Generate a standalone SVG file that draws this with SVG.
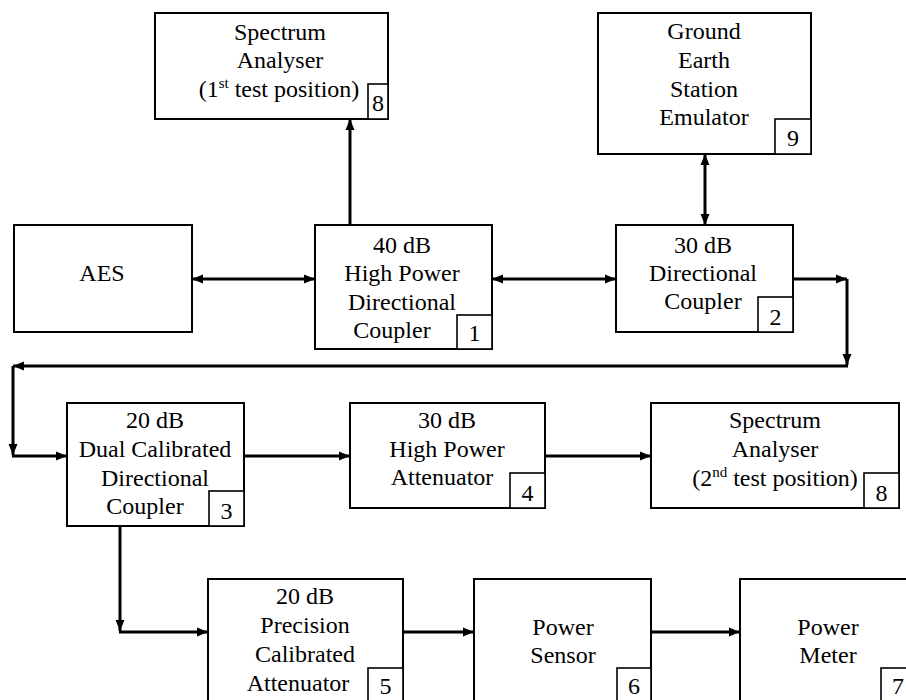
<svg xmlns="http://www.w3.org/2000/svg" width="906" height="700" viewBox="0 0 906 700">
<style>
.box{fill:#fff;stroke:#000;stroke-width:2}
.num{fill:#fff;stroke:#000;stroke-width:1.6}
text{font-family:"Liberation Serif","Times New Roman",serif;font-size:24px;fill:#000;text-anchor:middle}
.sup{font-size:15px}
.c{fill:none;stroke:#000;stroke-width:3}
</style>
<defs>
<marker id="ah" markerUnits="userSpaceOnUse" markerWidth="12" markerHeight="10" refX="11" refY="5" orient="auto-start-reverse">
<path d="M0,0.5 L11,5 L0,9.5 z" fill="#000"/>
</marker>
</defs>
<rect width="906" height="700" fill="#fff"/>
<g id="connectors">
<line class="c" x1="192" y1="279" x2="315" y2="279" marker-start="url(#ah)" marker-end="url(#ah)"/>
<line class="c" x1="492" y1="279" x2="616" y2="279" marker-start="url(#ah)" marker-end="url(#ah)"/>
<line class="c" x1="350" y1="225" x2="350" y2="119" marker-end="url(#ah)"/>
<line class="c" x1="705" y1="154" x2="705" y2="225" marker-start="url(#ah)" marker-end="url(#ah)"/>
<line class="c" x1="793" y1="279" x2="847" y2="279" marker-end="url(#ah)"/>
<line class="c" x1="847" y1="279" x2="847" y2="365" marker-end="url(#ah)"/>
<line class="c" x1="848" y1="366" x2="13" y2="366" marker-end="url(#ah)"/>
<line class="c" x1="13" y1="366" x2="13" y2="455" marker-end="url(#ah)"/>
<line class="c" x1="12" y1="456" x2="67" y2="456" marker-end="url(#ah)"/>
<line class="c" x1="244" y1="456" x2="350" y2="456" marker-end="url(#ah)"/>
<line class="c" x1="545" y1="456" x2="651" y2="456" marker-end="url(#ah)"/>
<line class="c" x1="120" y1="526" x2="120" y2="631" marker-end="url(#ah)"/>
<line class="c" x1="119" y1="632" x2="208" y2="632" marker-end="url(#ah)"/>
<line class="c" x1="403" y1="632" x2="474" y2="632" marker-end="url(#ah)"/>
<line class="c" x1="651" y1="632" x2="740" y2="632" marker-end="url(#ah)"/>
</g>
<g id="sa1">
<rect class="box" x="155" y="13" width="233" height="106"/>
<rect class="num" x="368" y="84" width="20" height="35"/>
<text x="280" y="40">Spectrum</text>
<text x="280" y="68">Analyser</text>
<text x="279" y="97">(1<tspan class="sup" dy="-9">st</tspan><tspan dy="9"> test position)</tspan></text>
<text x="378" y="111">8</text>
</g>
<g id="ges">
<rect class="box" x="598" y="13" width="213" height="141"/>
<rect class="num" x="775" y="119" width="36" height="35"/>
<text x="704" y="39">Ground</text>
<text x="704" y="68">Earth</text>
<text x="704" y="97">Station</text>
<text x="704" y="125">Emulator</text>
<text x="793" y="146">9</text>
</g>
<g id="aes">
<rect class="box" x="14" y="225" width="178" height="107"/>
<text x="102" y="281">AES</text>
</g>
<g id="hpdc">
<rect class="box" x="315" y="225" width="177" height="124"/>
<rect class="num" x="457" y="315" width="35" height="34"/>
<text x="402" y="253">40 dB</text>
<text x="402" y="281">High Power</text>
<text x="402" y="310">Directional</text>
<text x="392" y="338">Coupler</text>
<text x="474.5" y="341">1</text>
</g>
<g id="dc30">
<rect class="box" x="616" y="225" width="177" height="107"/>
<rect class="num" x="758" y="297" width="35" height="35"/>
<text x="703" y="253">30 dB</text>
<text x="703" y="281">Directional</text>
<text x="703" y="309">Coupler</text>
<text x="775.5" y="325">2</text>
</g>
<g id="dcdc">
<rect class="box" x="67" y="403" width="177" height="123"/>
<rect class="num" x="209" y="491" width="35" height="35"/>
<text x="155" y="428">20 dB</text>
<text x="155" y="457">Dual Calibrated</text>
<text x="155" y="486">Directional</text>
<text x="145" y="514">Coupler</text>
<text x="226.5" y="519">3</text>
</g>
<g id="hpa">
<rect class="box" x="350" y="403" width="195" height="105"/>
<rect class="num" x="510" y="473" width="35" height="35"/>
<text x="447" y="428">30 dB</text>
<text x="447" y="457">High Power</text>
<text x="442" y="485">Attenuator</text>
<text x="527.5" y="501">4</text>
</g>
<g id="sa2">
<rect class="box" x="651" y="403" width="248" height="105"/>
<rect class="num" x="864" y="473" width="35" height="35"/>
<text x="775" y="428">Spectrum</text>
<text x="775" y="457">Analyser</text>
<text x="775" y="486">(2<tspan class="sup" dy="-9">nd</tspan><tspan dy="9"> test position)</tspan></text>
<text x="881.5" y="501">8</text>
</g>
<g id="pca">
<rect class="box" x="208" y="579" width="195" height="126"/>
<rect class="num" x="368" y="668" width="35" height="37"/>
<text x="305" y="604">20 dB</text>
<text x="305" y="633">Precision</text>
<text x="305" y="662">Calibrated</text>
<text x="298" y="691">Attenuator</text>
<text x="385.5" y="694">5</text>
</g>
<g id="ps">
<rect class="box" x="474" y="579" width="177" height="126"/>
<rect class="num" x="617" y="668" width="34" height="37"/>
<text x="563" y="635">Power</text>
<text x="563" y="663">Sensor</text>
<text x="634" y="694">6</text>
</g>
<g id="pm">
<rect class="box" x="740" y="579" width="175" height="126"/>
<rect class="num" x="881" y="668" width="34" height="37"/>
<text x="828" y="635">Power</text>
<text x="828" y="663">Meter</text>
<text x="898" y="694">7</text>
</g>
</svg>
